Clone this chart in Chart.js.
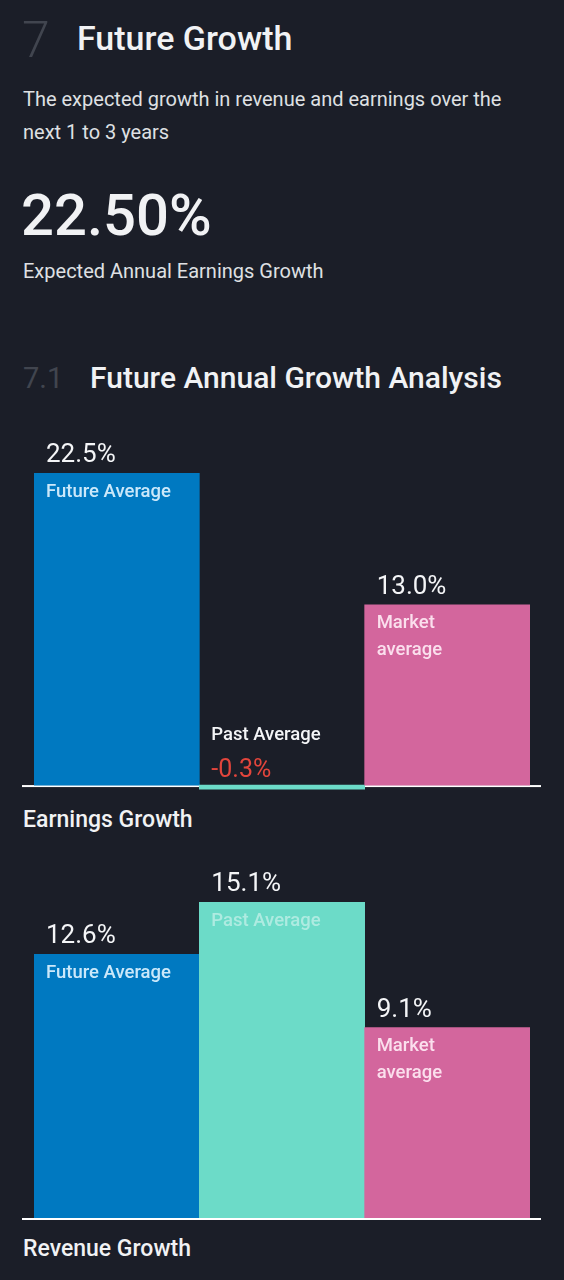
<!DOCTYPE html>
<html>
<head>
<meta charset="utf-8">
<script src="https://cdn.jsdelivr.net/npm/chart.js@4"></script>
<style>
  html, body { margin: 0; padding: 0; }
  body {
    width: 564px; height: 1280px; position: relative; overflow: hidden;
    background: #1b1e28; font-family: Roboto, "Noto Sans", sans-serif; color: #f1f2f4;
  }
  .t { position: absolute; white-space: nowrap; }
  .num { color: #41454f; font-weight: 300; }
  canvas { display: block; }
  .chart-wrap { position: absolute; left: 0; width: 564px; }
</style>
</head>
<body>
  <div class="t num" style="left:22px; top:10px; font-size:50px; line-height:60px;">7</div>
  <div class="t" style="left:77px; top:17px; font-size:34px; line-height:42px; font-weight:500;">Future Growth</div>
  <div class="t" style="left:23px; top:83px; font-size:20px; line-height:33px; color:#dfe0e3; white-space:normal; width:530px;">The expected growth in revenue and earnings over the<br>next 1 to 3 years</div>
  <div class="t" style="left:21px; top:180px; font-size:58px; line-height:70px; font-weight:500;">22.50%</div>
  <div class="t" style="left:23px; top:257px; font-size:20px; line-height:28px; color:#dfe0e3;">Expected Annual Earnings Growth</div>

  <div class="t num" style="left:23px; top:361px; font-size:29px; line-height:34px; font-weight:400;">7.1</div>
  <div class="t" style="left:90px; top:361px; font-size:30px; line-height:34px; font-weight:500;">Future Annual Growth Analysis</div>

  <div class="chart-wrap" style="top:420px; height:380px;"><canvas id="earnings-chart" width="564" height="380"></canvas></div>
  <div class="t" style="left:23px; top:806px; font-size:23px; line-height:28px; font-weight:500;">Earnings Growth</div>

  <div class="chart-wrap" style="top:860px; height:366px;"><canvas id="revenue-chart" width="564" height="366"></canvas></div>
  <div class="t" style="left:23px; top:1235px; font-size:23px; line-height:28px; font-weight:500;">Revenue Growth</div>

<script>
// ── Data ─────────────────────────────────────────────────────
const categories = ['Future Average', 'Past Average', ['Market', 'average']];
const earningsGrowth = [22.5, -0.3, 13.0];
const revenueGrowth = [12.6, 15.1, 9.1];

const barColors = ['#0079c1', '#6cdbc8', '#d3669d'];
const innerLabelColors = ['rgba(220,242,255,0.92)', 'rgba(255,255,255,0.45)', 'rgba(255,236,246,0.9)'];

// Baseline + value/category labels drawn on the bars
const barLabels = {
  id: 'barLabels',
  beforeDatasetsDraw(chart) {
    const { ctx, chartArea } = chart;
    const y0 = chart.scales.y.getPixelForValue(0);
    ctx.save();
    ctx.fillStyle = '#ffffff';
    ctx.fillRect(chartArea.left - 12, y0, chartArea.right - chartArea.left + 23, 2);
    ctx.restore();
  },
  afterDatasetsDraw(chart) {
    const { ctx } = chart;
    const meta = chart.getDatasetMeta(0);
    const values = chart.data.datasets[0].data;
    const y0 = chart.scales.y.getPixelForValue(0);
    ctx.save();
    ctx.textAlign = 'left';
    meta.data.forEach((bar, i) => {
      const left = bar.x - bar.width / 2 + 12;
      const v = values[i];
      const lines = [].concat(chart.data.labels[i]);
      if (v >= 0) {
        ctx.font = '400 26px Roboto';
        ctx.fillStyle = '#f4f5f7';
        ctx.textBaseline = 'alphabetic';
        ctx.fillText(`${v.toFixed(1)}%`, left, bar.y - 11);
        ctx.font = '500 18.5px Roboto';
        ctx.fillStyle = innerLabelColors[i];
        ctx.textBaseline = 'middle';
        lines.forEach((l, k) => ctx.fillText(l, left, bar.y + 19 + k * 27));
      } else {
        ctx.font = '400 25px Roboto';
        ctx.fillStyle = '#e2453c';
        ctx.textBaseline = 'alphabetic';
        ctx.fillText(`${v.toFixed(1)}%`, left, y0 - 8);
        ctx.font = '500 18.5px Roboto';
        ctx.fillStyle = '#f4f5f7';
        ctx.textBaseline = 'middle';
        lines.forEach((l, k) => ctx.fillText(l, left, y0 - 50 + k * 27));
      }
    });
    ctx.restore();
  },
};

function makeChart(id, values, min, padTop, padBottom) {
  const ctx = document.getElementById(id).getContext('2d');
  return new Chart(ctx, {
    type: 'bar',
    data: {
      labels: categories,
      datasets: [{
        data: values,
        backgroundColor: barColors,
        borderWidth: 0,
        barPercentage: 1,
        categoryPercentage: 1,
      }],
    },
    options: {
      responsive: false,
      animation: false,
      layout: { padding: { top: padTop, bottom: padBottom, left: 34, right: 34 } },
      plugins: { legend: { display: false }, tooltip: { enabled: false } },
      scales: {
        x: { display: false },
        y: { display: false, min: min, max: Math.max(...values) },
      },
    },
    plugins: [barLabels],
  });
}

makeChart('earnings-chart', earningsGrowth, -0.5, 53, 8);
makeChart('revenue-chart', revenueGrowth, 0, 42, 8);
</script>
</body>
</html>
